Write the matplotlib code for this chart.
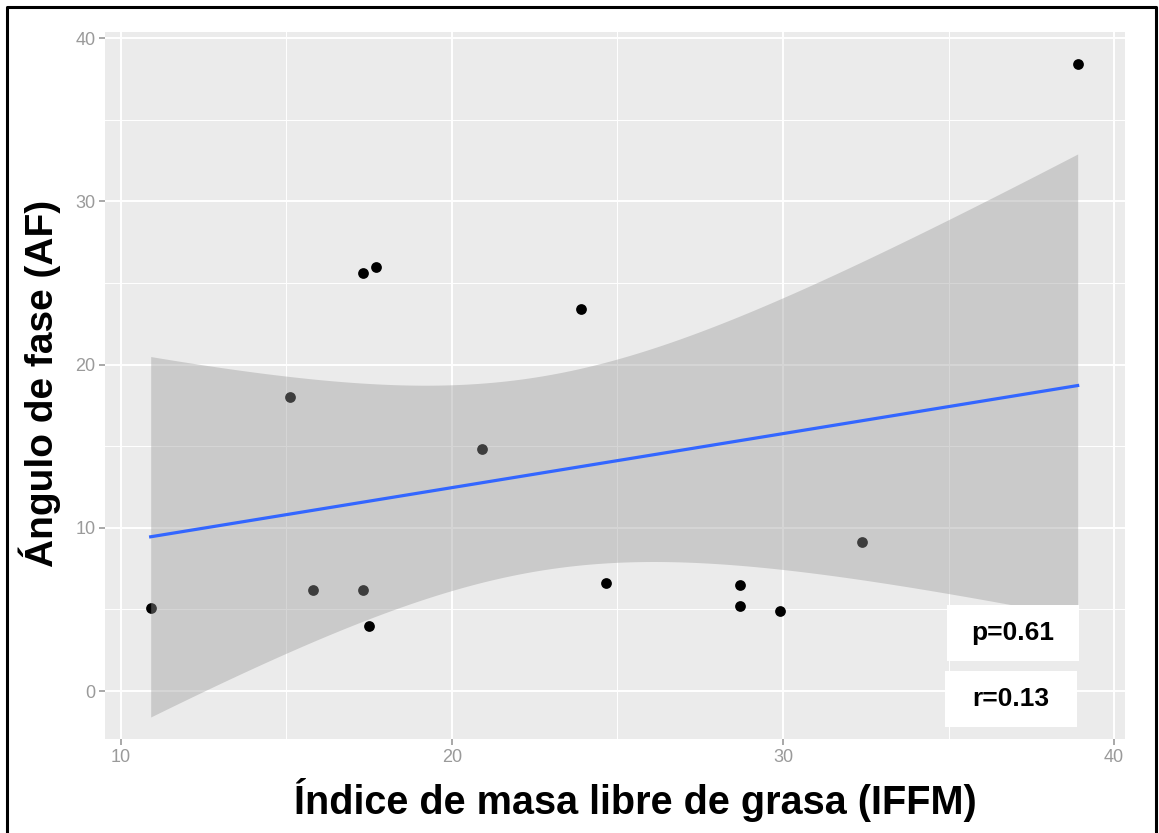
import numpy as np
import matplotlib.pyplot as plt
from matplotlib.lines import Line2D
from matplotlib.patches import Rectangle

# Data
iffm = [10.9, 15.1, 15.8, 17.3, 17.5, 17.3, 17.7, 23.9, 20.9, 24.65, 28.7, 28.7, 29.9, 32.4, 38.9]
af = [5.1, 18.0, 6.2, 6.2, 4.0, 25.6, 26.0, 23.4, 14.8, 6.6, 6.5, 5.2, 4.9, 9.1, 38.4]
x_ticks = [10, 20, 30, 40]
y_ticks = [0, 10, 20, 30, 40]
stats_labels = ["p=0.61", "r=0.13"]

x = np.array(iffm)
y = np.array(af)

# Linear fit with 95% confidence band (like geom_smooth(method="lm"))
n = len(x)
slope, intercept = np.polyfit(x, y, 1)
resid = y - (slope * x + intercept)
s = np.sqrt(np.sum(resid**2) / (n - 2))
sxx = np.sum((x - x.mean())**2)
xs = np.linspace(x.min(), x.max(), 200)
ys = slope * xs + intercept
t_crit = 2.160  # t(0.975, df=13)
se = s * np.sqrt(1 / n + (xs - x.mean())**2 / sxx)

plt.rcParams['font.family'] = ['Liberation Sans', 'DejaVu Sans']

W, H = 1159, 833
fig = plt.figure(figsize=(W / 100, H / 100), dpi=100)
ax = fig.add_axes([105 / W, 1 - 739 / H, 1020 / W, 707 / H])
ax.set_facecolor('#EBEBEB')

ax.scatter(x, y, s=60, color='black', zorder=3, linewidths=0)
ax.fill_between(xs, ys - t_crit * se, ys + t_crit * se, color='#999999', alpha=0.4,
                linewidth=0, zorder=4)
ax.plot(xs, ys, color='#3366FF', linewidth=2.3, zorder=5)

ax.set_xlim(9.52, 40.33)
ax.set_ylim(-2.94, 40.37)
ax.set_xticks(x_ticks)
ax.set_yticks(y_ticks)
ax.set_xticks([15, 25, 35], minor=True)
ax.set_yticks([5, 15, 25, 35], minor=True)
ax.grid(True, which='major', color='white', linewidth=1.4, zorder=0)
ax.grid(True, which='minor', color='white', linewidth=0.7, zorder=0)
ax.set_axisbelow(True)
for sp in ax.spines.values():
    sp.set_visible(False)
ax.tick_params(which='major', colors='#9a9a9a', labelsize=13, length=4, width=1.2, pad=3)
ax.tick_params(which='minor', length=0)

fig.text(635 / W, 1 - 800 / H, "Índice de masa libre de grasa (IFFM)",
         ha='center', va='center', fontsize=28.5, fontweight='bold')
fig.text(40 / W, 1 - 383 / H, "Ángulo de fase (AF)", rotation=90,
         ha='center', va='center', fontsize=28, fontweight='bold')

# stat boxes
for (cx, cy), label in zip([(1013, 633), (1011, 699)], stats_labels):
    fig.patches.append(Rectangle(((cx - 66) / W, 1 - (cy + 28) / H), 132 / W, 56 / H,
                                 transform=fig.transFigure, facecolor='white',
                                 edgecolor='none', zorder=10))
    fig.text(cx / W, 1 - cy / H, label, ha='center', va='center',
             fontsize=19, fontweight='bold', zorder=11)

# outer border (left, top, right)
fig.lines.append(Line2D([7 / W, 7 / W, 1156 / W, 1156 / W], [0, 1 - 7 / H, 1 - 7 / H, 0],
                        transform=fig.transFigure, color='black', linewidth=2.2))

plt.savefig('out.png', dpi=100)
